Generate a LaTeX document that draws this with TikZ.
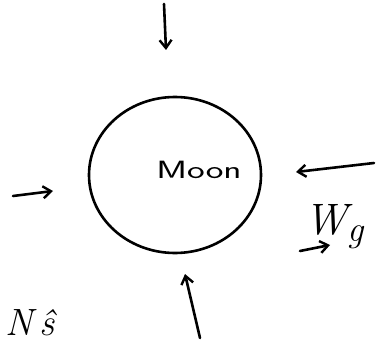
\documentclass[tikz,border=0pt]{standalone}
\usepackage{fontspec}
\usetikzlibrary{arrows.meta}
\begin{document}
\begin{tikzpicture}[x=1pt,y=-1pt,
  ink/.style={line width=2.6pt, line cap=round, line join=round},
  force/.style={ink, -{Straight Barb[length=8pt,width=12pt,line width=2.4pt]}},
  lbl/.style={inner sep=0pt}]
\useasboundingbox (0,0) rectangle (377,342);
\fill[white] (0,0) rectangle (377,342);
% Moon body
\draw[ink] (175,175) ellipse [x radius=86, y radius=78];
\node[lbl, xscale=1.5, font=\fontsize{25}{27}\selectfont\sffamily] (moon) at (199,170) {Moon};
% forces
\coordinate (t1) at (164,4);   \coordinate (t2) at (166,50);
\coordinate (l1) at (13,196);  \coordinate (l2) at (53,191);
\coordinate (r1) at (374,163); \coordinate (r2) at (296,172);
\coordinate (b1) at (200,338); \coordinate (b2) at (185,274);
\draw[force] (t1) -- (t2);
\draw[force] (l1) -- (l2);
\draw[force] (r1) -- (r2);
\draw[force] (b1) -- (b2);
% W_g label with vector arrow
\node[lbl, font=\fontsize{44}{46}\selectfont\itshape, anchor=base west] (wg) at (304,234) {W\raisebox{-0.18em}{\fontsize{36}{38}\selectfont g}};
\coordinate (w1) at (300,251); \coordinate (w2) at (330,245);
\draw[force] (w1) -- (w2);
% bottom-left label
\node[lbl, font=\fontsize{38}{40}\selectfont\itshape, anchor=base west] (ns) at (5,335) {N\,\^{s}};
\end{tikzpicture}
\end{document}
